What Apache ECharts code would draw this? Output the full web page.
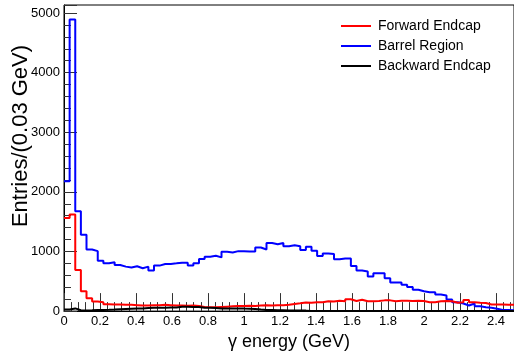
<!DOCTYPE html>
<html>
<head>
<meta charset="utf-8">
<script src="https://cdn.jsdelivr.net/npm/echarts@6/dist/echarts.min.js"></script>
<style>
html,body{margin:0;padding:0;background:#fff;}
#c{width:514px;height:356px;}
</style>
</head>
<body>
<div id="c"></div>
<script>
// Histogram: 80 bins from 0 to 2.5 GeV
const xMin = 0, xMax = 2.5, nBins = 80;
const seriesNames = ['Forward Endcap', 'Barrel Region', 'Backward Endcap'];
const forwardEndcap = [
  1560,1620,691,332,215,160,150,115,110,110,
  105,105,100,95,95,100,100,105,100,95,
  95,90,95,85,70,65,65,70,75,80,
  85,85,90,85,95,100,95,100,100,105,
  120,130,145,140,150,150,165,160,175,165,
  200,170,190,165,165,170,180,180,165,175,
  175,170,175,170,150,150,165,170,165,140,
  150,185,150,140,135,110,110,110,105,105
];
const barrelRegion = [
  2180,4890,1675,1282,1033,1006,846,801,820,774,
  746,730,752,719,746,680,763,791,791,801,
  813,813,763,801,872,912,929,901,995,984,
  1006,1006,1000,1000,1067,1034,1144,1122,1144,1089,
  1106,1089,1023,1078,1012,924,967,958,868,884,
  884,757,680,663,580,635,635,552,481,481,
  442,403,359,332,315,315,277,260,194,149,
  127,94,127,83,66,55,39,17,17,15
];
const backwardEndcap = [
  28,45,15,12,15,20,20,22,25,30,
  35,40,45,45,50,55,55,55,60,62,
  72,72,70,68,55,55,50,45,42,45,
  45,42,40,35,25,20,18,15,15,12,
  10,10,8,0,0,0,0,0,0,0,
  0,0,0,0,0,0,0,0,0,0,
  0,0,0,0,0,0,0,0,0,0,
  0,0,0,0,0,0,0,0,0,0
];
const yMax = 5135;
const xTitle = 'γ energy (GeV)';
const yTitle = 'Entries/(0.03 GeV)';

const binW = (xMax - xMin) / nBins;
function toSteps(vals) {
  const d = vals.map((v, k) => [xMin + k * binW, v]);
  d.push([xMin + vals.length * binW, vals[vals.length - 1]]);
  return d;
}

const FONT = 'Liberation Sans';
const chart = echarts.init(document.getElementById('c'), null, {renderer: 'canvas'});
chart.setOption({
  animation: false,
  backgroundColor: '#fff',
  grid: {left: 64, right: -6, top: 5, bottom: 40, show: true, borderColor: '#000', borderWidth: 1, backgroundColor: 'transparent'},
  xAxis: {
    type: 'value', min: xMin, max: xMax, interval: 0.2,
    axisLine: {show: true, onZero: false, lineStyle: {color: '#000', width: 1}},
    axisTick: {show: true, inside: true, length: 18, lineStyle: {color: '#333', width: 1}},
    minorTick: {show: true, splitNumber: 5, length: 9, lineStyle: {color: '#333', width: 1}},
    splitLine: {show: false},
    axisLabel: {fontFamily: FONT, fontSize: 13, color: '#000', margin: 4, showMaxLabel: false},
    name: xTitle, nameLocation: 'middle', nameGap: 15,
    nameTextStyle: {fontFamily: FONT, fontSize: 18, color: '#000', align: 'center'}
  },
  yAxis: {
    type: 'value', min: 0, max: yMax, interval: 1000,
    axisLine: {show: true, onZero: false, lineStyle: {color: '#000', width: 1}},
    axisTick: {show: true, inside: true, length: 13, lineStyle: {color: '#333', width: 1}},
    minorTick: {show: true, splitNumber: 5, length: 7, lineStyle: {color: '#333', width: 1}},
    splitLine: {show: false},
    axisLabel: {fontFamily: FONT, fontSize: 13, color: '#000', margin: 4, showMaxLabel: false,
      formatter: v => String(v)}
  },
  legend: {
    orient: 'vertical', left: 341, top: 19, padding: 0,
    data: seriesNames,
    icon: 'rect', itemWidth: 30, itemHeight: 2, itemGap: 6,
    selectedMode: false,
    textStyle: {fontFamily: FONT, fontSize: 14, color: '#000', lineHeight: 14, padding: [0, 0, 0, 2]}
  },
  graphic: [{
    type: 'text', x: 21, y: 136, rotation: Math.PI / 2,
    style: {text: yTitle, fontFamily: FONT, fontSize: 22, fill: '#000', textAlign: 'center', textVerticalAlign: 'middle'}
  }],
  series: [
    {name: seriesNames[1], type: 'line', step: 'end', symbol: 'none', data: toSteps(barrelRegion),
      color: '#0000ff', lineStyle: {color: '#0000ff', width: 2}},
    {name: seriesNames[0], type: 'line', step: 'end', symbol: 'none', data: toSteps(forwardEndcap),
      color: '#ff0000', lineStyle: {color: '#ff0000', width: 2}},
    {name: seriesNames[2], type: 'line', step: 'end', symbol: 'none', data: toSteps(backwardEndcap),
      color: '#000000', lineStyle: {color: '#000000', width: 2}}
  ]
});
</script>
</body>
</html>
